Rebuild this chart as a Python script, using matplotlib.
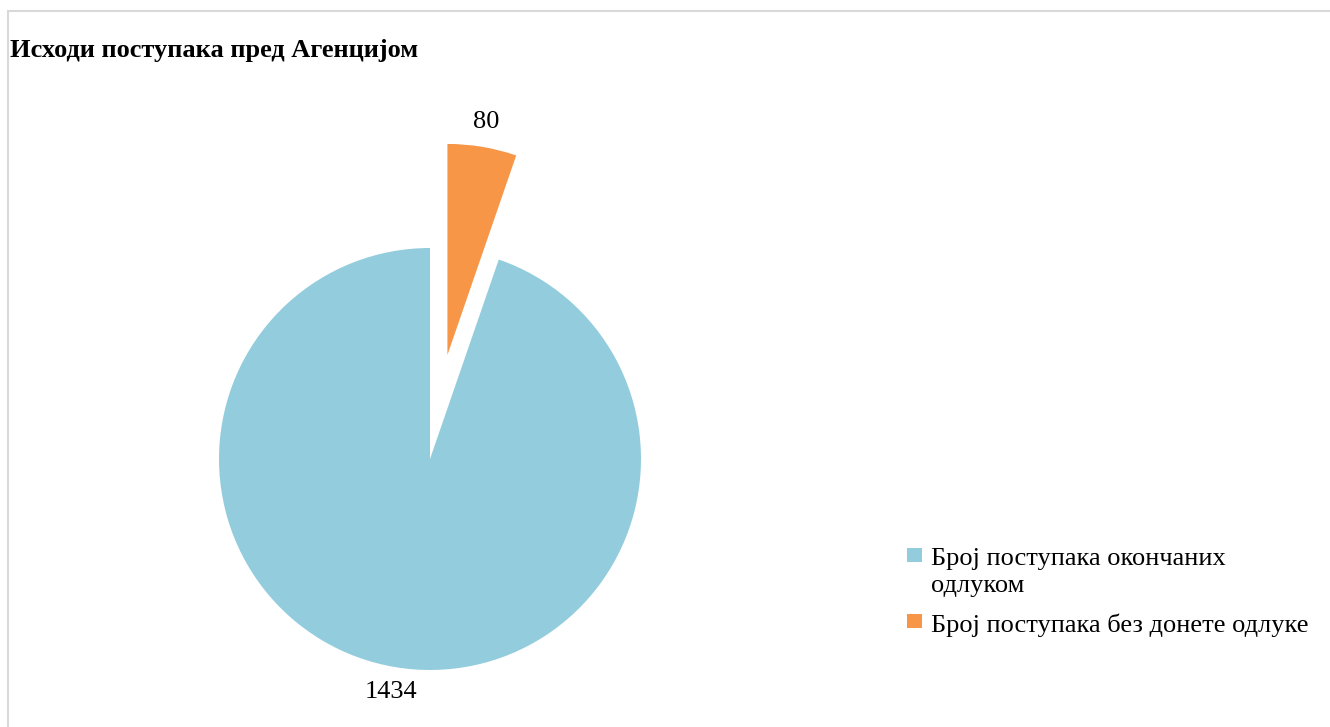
import matplotlib
matplotlib.use('Agg')
from matplotlib import pyplot as plt
from matplotlib.patches import Rectangle

# Chart data
categories = ['Број поступака окончаних\nодлуком', 'Број поступака без донете одлуке']
values = [1434, 80]
colors = ['#93CDDD', '#F79646']
title = 'Исходи поступака пред Агенцијом'

plt.rcParams['font.family'] = ['Liberation Serif', 'DejaVu Serif']

W, H = 1330, 727
fig = plt.figure(figsize=(W / 100, H / 100), dpi=100)
ax = fig.add_axes([0, 0, 1, 1])
ax.set_aspect('equal')
ax.axis('off')

# light frame (only top and left edges are visible in the reference)
ax.add_patch(Rectangle((8, -5), W, H - 11 + 5, fill=False, ec='#d9d9d9', lw=1.5))

#Start angle so the small slice sits clockwise from 12 o'clock
start = 90 - 360 * values[1] / sum(values)
R = 211
wedges, texts = ax.pie(values, colors=colors, labels=[str(v) for v in values],
                       startangle=start, counterclock=False,
                       explode=[0, 0.5 * R], radius=R, center=(430, H - 459),
                       labeldistance=1.12,
                       textprops=dict(ha='center', va='center', fontsize=19),
                       wedgeprops=dict(linewidth=0))
ax.set_xlim(0, W)
ax.set_ylim(0, H)

ax.text(10, H - 50, title, fontsize=19, fontweight='bold', ha='left', va='center')

#Legend drawn by hand so the marker sits on the first line of a wrapped label
#(y = baseline of the last line, marker top)
leg_base = [H - 592, H - 632]
leg_mark = [H - 548, H - 614]
for lab, col, yb, ym in zip(categories, colors, leg_base, leg_mark):
    ax.add_patch(Rectangle((907, ym - 14), 15, 14, color=col, lw=0))
    ax.text(931, yb, lab, fontsize=19, ha='left', va='baseline', linespacing=1.3)

plt.savefig('out.png', dpi=100)
